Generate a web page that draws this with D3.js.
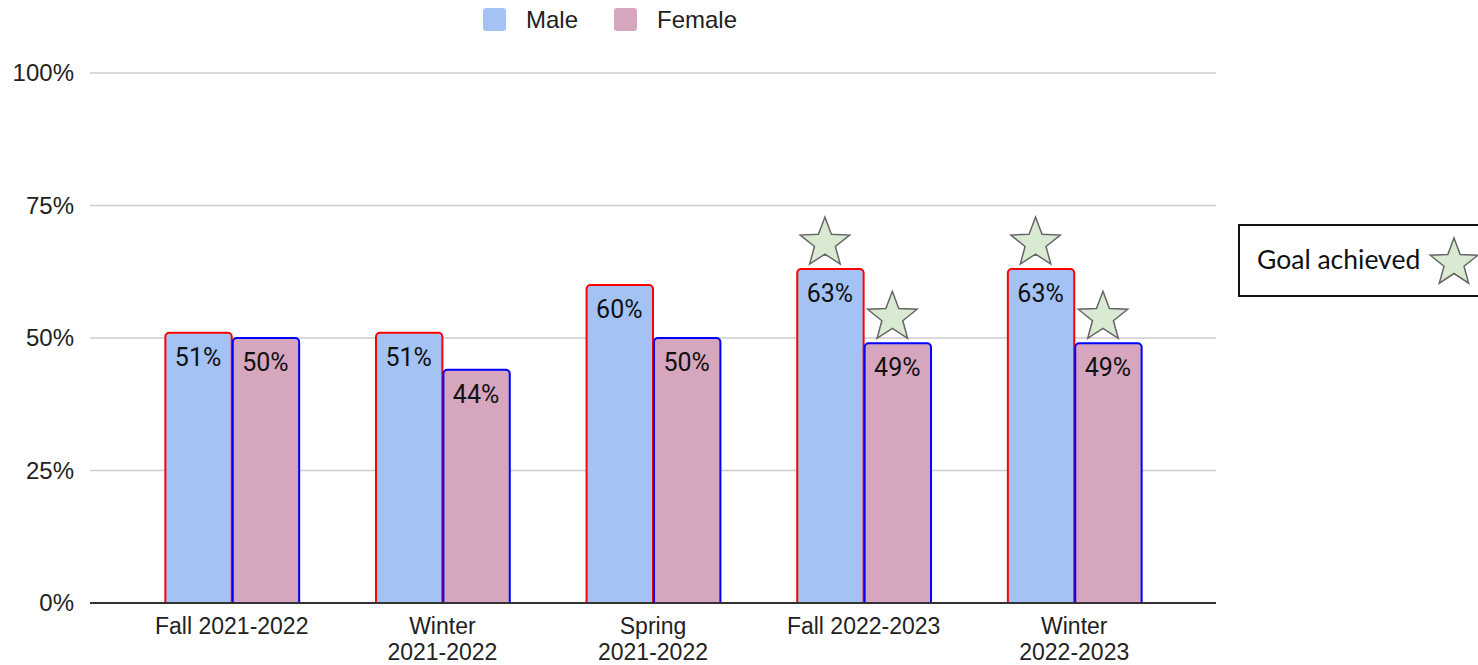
<!DOCTYPE html>
<html>
<head>
<meta charset="utf-8">
<script src="https://cdn.jsdelivr.net/npm/d3@7"></script>
<style>
  body { margin: 0; background: #fff; }
  svg { display: block; }
</style>
</head>
<body>
<svg width="1478" height="665"></svg>
<script>
"use strict";

const categories = [["Fall 2021-2022"], ["Winter", "2021-2022"], ["Spring", "2021-2022"], ["Fall 2022-2023"], ["Winter", "2022-2023"]];
const seriesNames = ["Male", "Female"];
const maleValues = [51, 51, 60, 63, 63];
const femaleValues = [50, 44, 50, 49, 49];
const maleGoal = [false, false, false, true, true];
const femaleGoal = [false, false, false, true, true];
const yTicks = [0, 25, 50, 75, 100];

const fills = { Male: "#a4c2f4", Female: "#d5a6bd" };
const strokes = { Male: "#ff0000", Female: "#0000ff" };

const plotLeft = 90, plotRight = 1216, plotTop = 73, plotBottom = 603;
const axisFont = "Liberation Sans, Arial, sans-serif";

function starPath(cx, cy, R, r) {
    let pts = [];
    for (let i = 0; i < 10; i++) {
        const rad = i % 2 === 0 ? R : r;
        const a = -Math.PI / 2 + i * Math.PI / 5;
        pts.push([cx + rad * Math.cos(a), cy + rad * Math.sin(a)]);
    }
    return "M" + pts.map(p => p.join(",")).join("L") + "Z";
}

function init() {
    const svg = d3.select("svg");

    const keys = categories.map(c => c.join(" "));
    const xScale = d3.scaleBand()
        .domain(keys)
        .range([plotLeft, plotRight])
        .paddingInner(0.36)
        .paddingOuter(0.353);
    const sub = d3.scaleBand()
        .domain(seriesNames)
        .range([0, xScale.bandwidth()]);
    const yScale = d3.scaleLinear()
        .domain([0, 100])
        .range([plotBottom, plotTop]);

    // gridlines
    svg.append("g").selectAll("line")
        .data(yTicks.filter(t => t > 0))
        .join("line")
        .attr("x1", plotLeft).attr("x2", plotRight)
        .attr("y1", d => yScale(d)).attr("y2", d => yScale(d))
        .attr("stroke", "#cccccc").attr("stroke-width", 1.5);

    // y axis labels
    const yAxis = d3.axisLeft(yScale).tickValues(yTicks).tickFormat(d => d + "%").tickSize(0).tickPadding(16);
    const ya = svg.append("g").attr("transform", `translate(${plotLeft},0)`).call(yAxis);
    ya.select(".domain").remove();
    ya.selectAll("text")
        .attr("font-family", axisFont)
        .attr("font-size", 24).attr("fill", "#222");

    const rows = [];
    keys.forEach((k, i) => {
        rows.push({ cat: k, s: "Male", v: maleValues[i], goal: maleGoal[i] });
        rows.push({ cat: k, s: "Female", v: femaleValues[i], goal: femaleGoal[i] });
    });

    const bw = sub.bandwidth();
    svg.append("g").selectAll("rect")
        .data(rows)
        .join("rect")
        .attr("x", d => xScale(d.cat) + sub(d.s) + 1)
        .attr("y", d => yScale(d.v))
        .attr("width", bw - 1)
        .attr("height", d => plotBottom - yScale(d.v) + 3)
        .attr("rx", 4)
        .attr("fill", d => fills[d.s])
        .attr("stroke", d => strokes[d.s])
        .attr("stroke-width", 2);

    // cover rounded bottoms below baseline
    svg.append("rect").attr("x", plotLeft).attr("y", plotBottom + 1).attr("width", plotRight - plotLeft).attr("height", 6).attr("fill", "#fff");

    // baseline
    svg.append("line")
        .attr("x1", plotLeft).attr("x2", plotRight)
        .attr("y1", plotBottom).attr("y2", plotBottom)
        .attr("stroke", "#333").attr("stroke-width", 2);

    // value labels
    svg.append("g").selectAll("text")
        .data(rows)
        .join("text")
        .attr("x", d => xScale(d.cat) + sub(d.s) + bw / 2)
        .attr("y", d => yScale(d.v) + 33)
        .attr("text-anchor", "middle")
        .attr("font-family", "Roboto, sans-serif")
        .attr("font-size", 25)
        .attr("fill", "#111")
        .text(d => d.v + "%");

    // goal stars
    svg.append("g").selectAll("path")
        .data(rows.filter(d => d.goal))
        .join("path")
        .attr("d", d => starPath(xScale(d.cat) + sub(d.s) + bw / 2 - 5, yScale(d.v) - 26, 26, 11))
        .attr("fill", "#d9ead3")
        .attr("stroke", "#666")
        .attr("stroke-width", 1.5);

    // x labels
    const xl = svg.append("g").selectAll("text")
        .data(categories.map((c, i) => ({ lines: c, key: keys[i] })))
        .join("text")
        .attr("x", d => xScale(d.key) + xScale.bandwidth() / 2)
        .attr("y", 634)
        .attr("text-anchor", "middle")
        .attr("font-family", axisFont)
        .attr("font-size", 23)
        .attr("fill", "#222");
    xl.selectAll("tspan")
        .data(d => d.lines.map(l => ({ l, x: xScale(d.key) + xScale.bandwidth() / 2 })))
        .join("tspan")
        .attr("x", d => d.x)
        .attr("dy", (d, i) => i === 0 ? 0 : 26)
        .text(d => d.l);

    // legend
    const legend = svg.append("g");
    const legendX = [483, 614];
    seriesNames.forEach((s, i) => {
        legend.append("rect")
            .attr("x", legendX[i]).attr("y", 8)
            .attr("width", 23).attr("height", 23).attr("rx", 3)
            .attr("fill", fills[s]);
        legend.append("text")
            .attr("x", legendX[i] + 43).attr("y", 28)
            .attr("font-family", axisFont)
            .attr("font-size", 24).attr("fill", "#222")
            .text(s);
    });

    // goal achieved box
    const gb = svg.append("g");
    gb.append("rect")
        .attr("x", 1239).attr("y", 225).attr("width", 245).attr("height", 71)
        .attr("fill", "#fff").attr("stroke", "#111").attr("stroke-width", 2);
    gb.append("text")
        .attr("x", 1257).attr("y", 269)
        .attr("font-family", "Lato, sans-serif")
        .attr("font-size", 26.5).attr("fill", "#111")
        .text("Goal achieved");
    gb.append("path")
        .attr("d", starPath(1454, 263, 25, 10.5))
        .attr("fill", "#d9ead3").attr("stroke", "#666").attr("stroke-width", 1.5);
}

init();
</script>
</body>
</html>
